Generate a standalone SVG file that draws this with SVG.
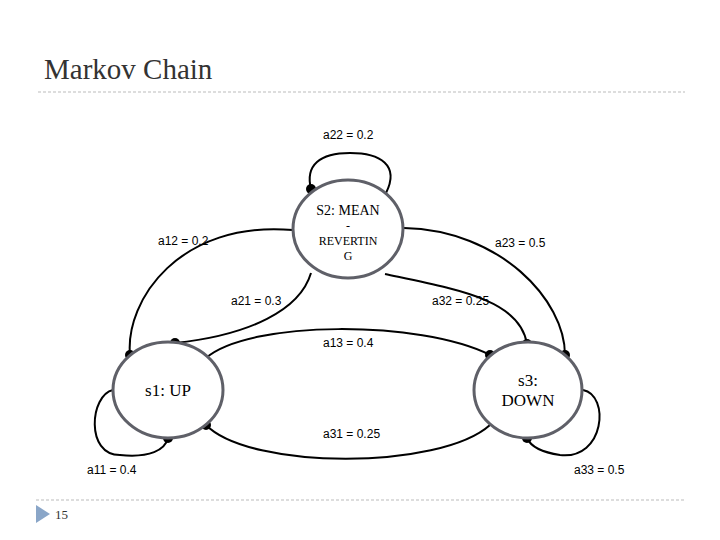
<svg xmlns="http://www.w3.org/2000/svg" width="720" height="540" viewBox="0 0 720 540">
<style>
.st{fill:#fff;stroke:#5f6068;stroke-width:3}
.e{fill:none;stroke:#000;stroke-width:2}
.l{font-family:"Liberation Sans",Arial,sans-serif;font-size:12px;fill:#000}
.n{font-family:"Liberation Serif","Times New Roman",serif;fill:#000;text-anchor:middle}
.d{stroke:#bbb;stroke-width:1;stroke-dasharray:3 2}
</style>
<defs><marker id="dot" markerWidth="6" markerHeight="6" refX="3" refY="3"><circle cx="3" cy="3" r="2.5" fill="#000"/></marker></defs>
<rect width="720" height="540" fill="#fff"/>
<text x="44" y="79" font-family="Liberation Serif,serif" font-size="29" fill="#333">Markov Chain</text>
<line class="d" x1="38" y1="92" x2="685" y2="92"/>
<line class="d" x1="36" y1="500" x2="685" y2="500"/>
<polygon points="36,505 36,523 50,514" fill="#8aa6c8"/>
<text x="55" y="519" font-family="Liberation Serif,serif" font-size="13" fill="#333">15</text>
<g id="connectors">
<path class="e" marker-end="url(#dot)" d="M386,193 C400,165 380,153 350,153 C320,153 305,165 311,189"/>
<path class="e" marker-end="url(#dot)" d="M293,230 C180,220 125,300 130,355"/>
<path class="e" marker-end="url(#dot)" d="M311,273 C300,310 250,335 175,343"/>
<path class="e" marker-end="url(#dot)" d="M206,358 C250,320 420,320 490,355"/>
<path class="e" marker-end="url(#dot)" d="M490,425 C440,470 250,470 206,425"/>
<path class="e" marker-end="url(#dot)" d="M404,228 C500,230 565,300 565,355"/>
<path class="e" marker-end="url(#dot)" d="M385,274 C460,290 520,300 527,344"/>
<path class="e" marker-end="url(#dot)" d="M583,390 C610,395 605,460 560,455 C540,452 530,445 527,438"/>
<path class="e" marker-end="url(#dot)" d="M113,390 C90,395 85,455 120,455 C150,458 165,450 168,438"/>
</g>
<g id="s2"><ellipse class="st" cx="348" cy="229" rx="55" ry="49"/>
<text class="n" x="348" y="215" font-size="14">S2: MEAN</text><text class="n" x="348" y="230" font-size="12">-</text>
<text class="n" x="348" y="245" font-size="12">REVERTIN</text><text class="n" x="348" y="260" font-size="12">G</text></g>
<g id="s1"><ellipse class="st" cx="168" cy="390" rx="55" ry="48"/>
<text class="n" x="168" y="396" font-size="17">s1: UP</text></g>
<g id="s3"><ellipse class="st" cx="528" cy="390" rx="54" ry="48"/>
<text class="n" x="528" y="386" font-size="17">s3:</text><text class="n" x="528" y="406" font-size="17">DOWN</text></g>
<g id="labels">
<text class="l" x="323" y="139">a22 = 0.2</text>
<text class="l" x="158" y="245">a12 = 0.2</text>
<text class="l" x="495" y="247">a23 = 0.5</text>
<text class="l" x="231" y="305">a21 = 0.3</text>
<text class="l" x="432" y="305">a32 = 0.25</text>
<text class="l" x="323" y="347">a13 = 0.4</text>
<text class="l" x="323" y="438">a31 = 0.25</text>
<text class="l" x="87" y="474">a11 = 0.4</text>
<text class="l" x="574" y="474">a33 = 0.5</text>
</g>
</svg>
